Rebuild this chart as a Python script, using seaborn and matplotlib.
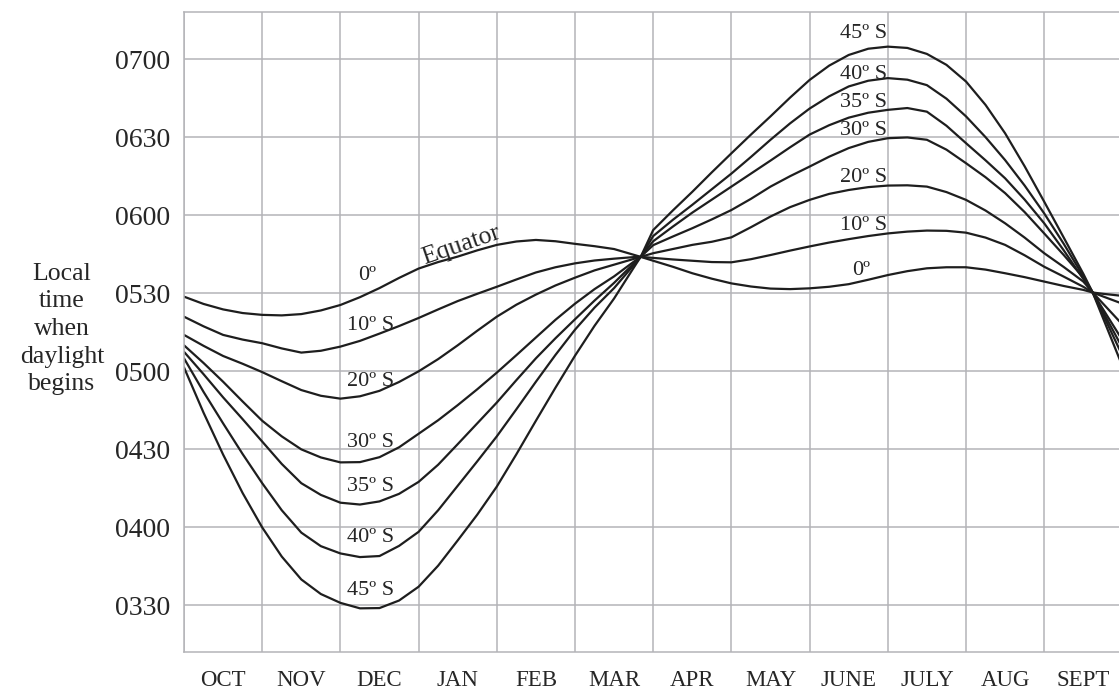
import numpy as np
import pandas as pd
import matplotlib
matplotlib.use("Agg")
import matplotlib.pyplot as plt
import seaborn as sns

# month positions (0 = start of OCT), quarter-month readings plus the two crossing points
month_pos = list(np.arange(0, 6, 0.25)) + [5.84] + list(np.arange(6, 11.75, 0.25)) + [11.62, 11.75, 12]

# minutes after midnight when daylight begins
lat_0 = [328.7, 325.9, 323.8, 322.4, 321.7, 321.5, 322, 323.4, 325.5, 328.5, 332, 335.9,
         339.5, 342, 344.1, 346.5, 348.6, 349.9, 350.5, 350, 349, 348.1, 347, 344.8, 344,
         342.5, 340.2, 337.7, 335.6, 333.8, 332.6, 331.8, 331.6, 331.9, 332.5, 333.5, 335.2,
         337, 338.5, 339.6, 340, 340, 339.1, 337.7, 336.2, 334.5, 332.8, 331.3, 330.3, 329.8, 329]
lat_10 = [321, 317.3, 314, 312.2, 310.8, 308.8, 307.2, 307.9, 309.5, 311.7, 314.5, 317.4,
          320.5, 323.8, 327, 329.8, 332.5, 335.3, 338, 340, 341.5, 342.6, 343.3, 343.9, 344,
          343.6, 343, 342.5, 342, 341.9, 343.1, 344.7, 346.4, 348, 349.5, 350.8, 352,
          353, 353.7, 354.1, 354, 353.3, 351.4, 348.6, 344.6, 340.2, 336.4, 332.5, 330.3, 328.8, 326]
lat_20 = [314, 309.8, 305.9, 302.9, 299.7, 296.2, 292.8, 290.6, 289.5, 290.4, 292.5, 295.9,
          300, 304.7, 310, 315.6, 321, 325.6, 329.5, 333, 336, 338.8, 341, 343.2, 344,
          345.4, 347, 348.6, 349.8, 351.5, 355.4, 359.5, 363.1, 365.9, 368.2, 369.7, 370.8,
          371.4, 371.5, 371, 368.9, 365.9, 361.8, 356.9, 351.4, 345.4, 340.1, 334.5, 330.3, 326.1, 318]
lat_30 = [310, 303.2, 296, 288.4, 281, 275, 270, 266.9, 265, 265.1, 267, 270.8,
          276, 281.2, 287, 293.1, 299.5, 306.2, 313, 319.8, 326, 331.6, 336.5, 342.1, 344,
          348.5, 351.8, 355, 358.4, 362, 366.3, 371, 375, 378.7, 382.5, 385.8, 388.2,
          389.6, 389.9, 389, 385.2, 380, 374.6, 368.5, 361.2, 353, 344.7, 336, 330.3, 324, 312]
lat_35 = [307.5, 298.9, 290, 281.6, 273, 264.4, 257, 252.5, 249.5, 248.8, 250, 252.9,
          257.5, 264.1, 272, 280, 288, 296.6, 305, 312.7, 320, 327.2, 334, 341.4, 344,
          350, 355.6, 361, 366, 371, 376, 381, 386.1, 391, 394.6, 397.5, 399.4,
          400.5, 401.2, 399.8, 394.4, 387.7, 381.1, 374.2, 366, 356.9, 346.5, 335.5, 330.3, 323, 309]
lat_40 = [305, 292.1, 280, 268.2, 257, 246.6, 238, 232.8, 230, 228.6, 229, 232.9,
          238.3, 246.6, 256, 265.4, 275, 285.4, 296, 306.3, 316, 324.5, 332, 340.8, 344,
          352, 358.2, 364, 370, 376, 382.4, 389, 395.3, 401, 405.7, 409.5, 411.7,
          412.7, 412.1, 410, 404.8, 398, 390, 381.2, 371.4, 360.7, 349, 336.5, 330.3, 322, 306]
lat_45 = [301.5, 284.1, 268, 253.2, 240, 228.8, 220, 214.4, 211, 208.9, 209, 211.9,
          217.2, 225.3, 235, 244.9, 255.7, 268.1, 281, 293.7, 306, 317.5, 328, 339.8, 344,
          354.3, 361.8, 369, 376.5, 383.8, 391, 398, 405.2, 412, 417.5, 421.6, 424,
          424.8, 424.3, 422, 417.8, 411.4, 402.4, 391.5, 378.8, 365.2, 351.4, 337.5, 330.3, 320.6, 302]

month_names = ["OCT", "NOV", "DEC", "JAN", "FEB", "MAR", "APR", "MAY", "JUNE", "JULY", "AUG", "SEPT"]
time_ticks = [210, 240, 270, 300, 330, 360, 390, 420]
time_labels = ["0330", "0400", "0430", "0500", "0530", "0600", "0630", "0700"]

series = {"0": lat_0, "10": lat_10, "20": lat_20, "30": lat_30,
          "35": lat_35, "40": lat_40, "45": lat_45}
df = pd.concat([pd.DataFrame({"month": month_pos, "minutes": v, "lat": k})
                for k, v in series.items()], ignore_index=True)

sns.set_style("white")
plt.rcParams["font.family"] = ["Liberation Serif", "DejaVu Serif"]
grid_col = "#b4b4b8"
line_col = "#1e1e1e"

fig = plt.figure(figsize=(11.19, 6.93), dpi=100)
ax = fig.add_axes([184 / 1119, 40.7 / 693, 938.4 / 1119, 640 / 693])

sns.lineplot(data=df, x="month", y="minutes", hue="lat", units="lat",
             palette=[line_col] * 7, estimator=None, sort=False,
             linewidth=1.6, legend=False, ax=ax)

ax.set_xlim(0, 12)
ax.set_ylim(192, 438)
ax.set_xticks(range(13))
ax.set_xticklabels([""] * 13)
ax.set_xticks(np.arange(12) + 0.5, minor=True)
ax.set_xticklabels(month_names, minor=True, fontsize=16.5)
ax.set_yticks(time_ticks)
ax.set_yticklabels(time_labels, fontsize=20)
ax.tick_params(axis="both", which="both", length=0)
ax.tick_params(axis="x", which="minor", pad=13)
ax.tick_params(axis="y", pad=10)
ax.grid(True, which="major", color=grid_col, linewidth=1.1)
ax.set_axisbelow(True)
for sp in ax.spines.values():
    sp.set_color(grid_col)
    sp.set_linewidth(1.1)
ax.set_xlabel("")
ax.set_ylabel("")

fs = 16
# labels on the left
ax.text(2.23, 336.7, "0º", fontsize=fs, ha="left", va="center")
for lab, y in [("10", 317.8), ("20", 295.9), ("30", 272.8), ("35", 255.9), ("40", 236.3), ("45", 215.9)]:
    ax.text(2.08, y, lab + "º S", fontsize=fs, ha="left", va="center")
# labels on the right
for lab, y in [("45", 429.7), ("40", 414.2), ("35", 403.4), ("30", 392.6), ("20", 374.5), ("10", 356.1)]:
    ax.text(8.99, y, lab + "º S", fontsize=fs, ha="right", va="center")
ax.text(8.77, 338.6, "0º", fontsize=fs, ha="right", va="center")
ax.text(3.54, 348.6, "Equator", fontsize=18.5, ha="center", va="center", rotation=19)

fig.text(62 / 1119, 1 - 329 / 693, "Local\ntime\nwhen\ndaylight\nbegins",
         ha="center", va="center", fontsize=18.5, linespacing=1.33)

fig.savefig("out.png", dpi=100)
